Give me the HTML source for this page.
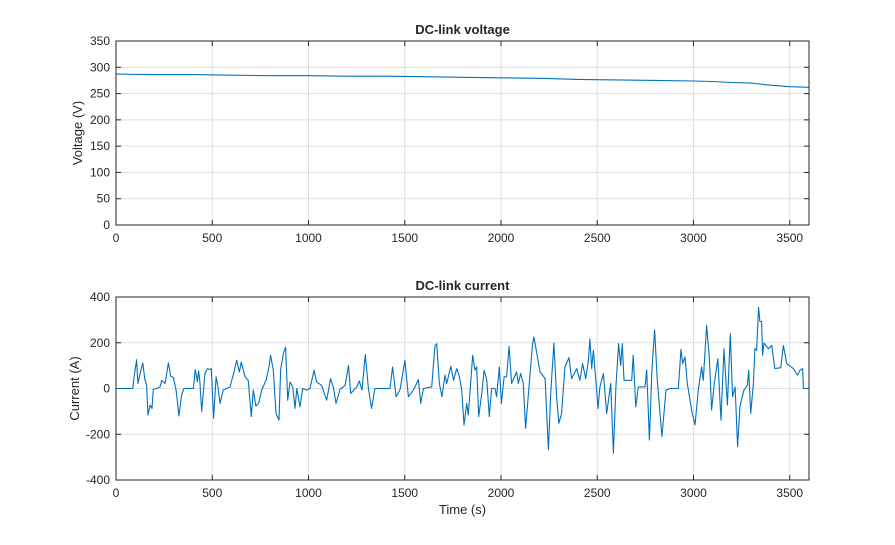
<!DOCTYPE html>
<html><head><meta charset="utf-8"><style>
body{margin:0;background:#fff;font-family:"Liberation Sans",Arial,sans-serif}
svg text{font-family:"Liberation Sans",Arial,sans-serif;fill:#262626}
</style></head><body>
<svg id="c" width="895" height="540" xmlns="http://www.w3.org/2000/svg"></svg>
<script>
const xTicks=[0,500,1000,1500,2000,2500,3000,3500];
const vTicks=[0,50,100,150,200,250,300,350];
const iTicks=[-400,-200,0,200,400];
const vTime=[0,200,400,600,800,1000,1200,1400,1600,1800,2000,2200,2400,2600,2800,3000,3100,3200,3300,3400,3500,3600];
const vVals=[287,286,286,285,284,284,283,283,282,281,280,279,277,276,275,274,273,271,270,266,263,262];
const iTime=[0,87,94,107,114,125,139,149,159,166,177,187,194,211,229,237,255,272,284,298,312,327,341,353,402,412,423,429,436,445,462,474,488,495,507,520,530,541,557,592,613,627,641,651,670,687,703,713,727,741,757,779,795,803,817,831,847,855,869,881,892,904,918,930,939,956,970,991,1008,1029,1042,1068,1094,1115,1129,1143,1164,1190,1208,1219,1251,1264,1278,1295,1311,1328,1345,1423,1437,1455,1476,1501,1519,1545,1571,1583,1597,1640,1657,1666,1680,1693,1709,1718,1739,1753,1770,1784,1796,1808,1822,1830,1853,1865,1874,1884,1900,1912,1926,1939,1951,1969,1977,1991,2002,2016,2029,2042,2055,2081,2090,2102,2116,2128,2151,2164,2171,2185,2203,2229,2246,2258,2275,2289,2301,2315,2332,2353,2367,2393,2410,2424,2440,2454,2462,2471,2480,2494,2504,2514,2532,2549,2570,2584,2597,2611,2622,2630,2639,2679,2687,2700,2713,2748,2757,2771,2784,2798,2812,2836,2857,2878,2921,2935,2944,2956,2968,2990,3008,3025,3042,3051,3068,3082,3094,3108,3126,3143,3158,3176,3191,3203,3216,3229,3241,3262,3280,3287,3297,3311,3319,3328,3338,3345,3354,3359,3366,3389,3406,3423,3453,3467,3484,3519,3540,3553,3567,3571,3600];
const iVals=[0,0,51,126,22,65,112,43,14,-116,-72,-87,-4,0,7,36,22,112,54,48,-7,-120,-29,0,0,83,29,77,29,-101,65,86,83,87,-130,51,7,-65,-7,7,72,123,72,116,51,36,-123,-7,-77,-65,-7,36,94,145,80,-109,-138,80,152,181,-51,29,7,-87,0,-80,0,-7,0,80,29,14,-51,43,7,-65,-4,14,101,-22,7,33,-7,148,0,-87,0,0,94,-36,-4,123,-36,-7,39,-65,0,7,188,196,22,-36,58,22,97,36,87,51,-7,-159,-65,-116,145,80,94,-123,-22,80,36,-123,0,0,-36,94,-65,51,51,184,22,72,22,65,22,-174,65,196,225,159,72,43,-268,-22,199,-36,-152,-109,94,135,43,87,36,109,43,123,217,87,167,22,-87,7,65,-109,22,-283,7,196,101,196,36,36,145,-80,7,7,80,-225,80,256,36,-210,-7,0,0,170,109,138,22,-94,-159,-7,94,36,275,138,-94,22,130,-138,174,-72,239,-36,7,-254,-80,-7,14,80,-109,22,174,167,355,293,293,145,199,174,188,87,91,188,109,87,58,80,87,0,0];

const svg=document.getElementById('c');const NS='http://www.w3.org/2000/svg';
function mk(t,a,p){const e=document.createElementNS(NS,t);for(const k in a)e.setAttribute(k,a[k]);(p||svg).appendChild(e);return e;}
const L=116,R=809;
function panel(top,bot,yMin,yMax,yt,title,ylabel,tx,ty,key){
  const g=mk('g',{});
  
  
  const sx=t=>L+(t-0)/3600*(R-L);
  const sy=v=>bot-(v-yMin)/(yMax-yMin)*(bot-top);
  mk('rect',{x:L,y:top,width:R-L,height:bot-top,fill:'#fff'},g);
  xTicks.forEach(t=>{const x=sx(t);mk('line',{x1:x,x2:x,y1:top,y2:bot,stroke:'#dfdfdf','stroke-width':1},g);
    mk('line',{x1:x,x2:x,y1:bot,y2:bot-5,stroke:'#262626'},g);mk('line',{x1:x,x2:x,y1:top,y2:top+5,stroke:'#262626'},g);
    const tl=mk('text',{x:x,y:bot+17,'text-anchor':'middle','font-size':12},g);tl.textContent=t;
    });
  yt.forEach(v=>{const y=sy(v);mk('line',{x1:L,x2:R,y1:y,y2:y,stroke:'#dfdfdf'},g);
    mk('line',{x1:L,x2:L+5,y1:y,y2:y,stroke:'#262626'},g);mk('line',{x1:R,x2:R-5,y1:y,y2:y,stroke:'#262626'},g);
    const tl=mk('text',{x:L-6,y:y+4,'text-anchor':'end','font-size':12},g);tl.textContent=v;
    });
  let d='';tx.forEach((t,i)=>{d+=(i?'L':'M')+sx(t).toFixed(1)+','+sy(ty[i]).toFixed(1);});
  const p=mk('path',{d:d,fill:'none',stroke:'#0072BD','stroke-width':1.1,'stroke-linejoin':'round'},g);
  
  mk('rect',{x:L,y:top,width:R-L,height:bot-top,fill:'none',stroke:'#262626','stroke-width':1},g);
  const ti=mk('text',{x:(L+R)/2,y:top-7,'text-anchor':'middle','font-size':13,'font-weight':'bold'},g);ti.textContent=title;
  
  const yl=mk('text',{x:0,y:0,'text-anchor':'middle','font-size':13,transform:`translate(${key==='voltage'?82:79},${(top+bot)/2}) rotate(-90)`},g);yl.textContent=ylabel;
  
}
panel(41,225,0,350,vTicks,'DC-link voltage','Voltage (V)',vTime,vVals,'voltage');
panel(297,480,-400,400,iTicks,'DC-link current','Current (A)',iTime,iVals,'current');
const xl=mk('text',{x:(L+R)/2,y:514,'text-anchor':'middle','font-size':13});xl.textContent='Time (s)';


</script>
</body></html>
